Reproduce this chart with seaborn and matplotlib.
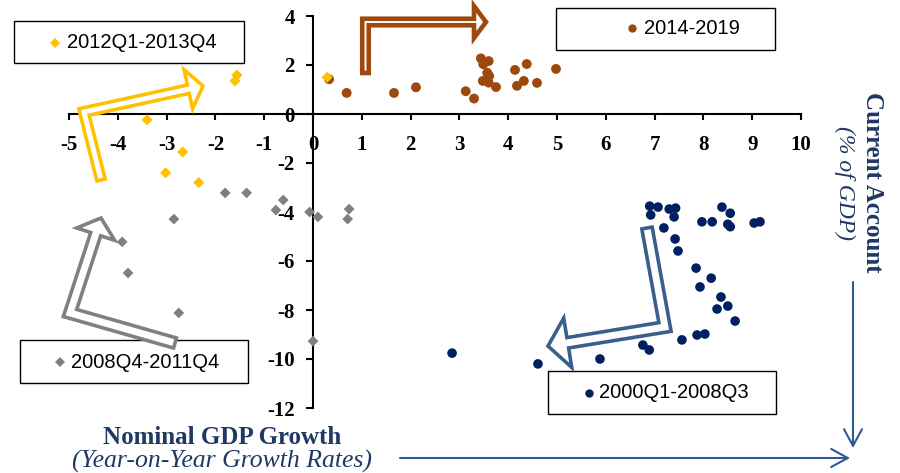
import numpy as np
import pandas as pd
import matplotlib
matplotlib.use("Agg")
import matplotlib.pyplot as plt
import seaborn as sns
from matplotlib.patches import Polygon, Rectangle, FancyArrowPatch, ArrowStyle
from matplotlib.lines import Line2D

# ---------------- data (nominal GDP growth %, current account % of GDP) ----------------
labels = ["2000Q1-2008Q3", "2008Q4-2011Q4", "2012Q1-2013Q4", "2014-2019"]

navy_x = [6.90, 7.07, 6.92, 7.30, 7.43, 7.40, 7.19, 7.42, 7.48, 8.38, 8.55, 7.97,
          8.18, 8.50, 8.55, 9.04, 9.16, 7.85, 8.16, 7.93, 8.36, 8.50, 8.28, 8.65,
          7.56, 7.87, 8.03, 6.76, 6.89, 5.88, 4.61, 2.85]
navy_y = [-3.76, -3.80, -4.12, -3.88, -3.84, -4.20, -4.65, -5.10, -5.59, -3.80, -4.05, -4.40,
          -4.40, -4.50, -4.60, -4.45, -4.40, -6.29, -6.70, -7.06, -7.47, -7.84, -7.96, -8.45,
          -9.22, -9.02, -8.98, -9.43, -9.63, -10.00, -10.20, -9.76]

gray_x = [-1.80, -1.36, -0.61, -0.76, -0.07, 0.10, 0.74, 0.71, -2.85, -3.91, -3.79, -2.75, 0.00]
gray_y = [-3.22, -3.22, -3.51, -3.92, -4.00, -4.20, -3.88, -4.29, -4.29, -5.22, -6.49, -8.12, -9.27]

yellow_x = [-1.56, -1.60, 0.29, -3.40, -2.67, -3.02, -2.34]
yellow_y = [1.59, 1.35, 1.50, -0.24, -1.55, -2.40, -2.80]

brown_x = [0.33, 0.69, 1.66, 2.11, 3.13, 3.30, 3.44, 3.60, 3.49, 3.57, 3.61, 3.48,
           3.60, 3.75, 4.14, 4.38, 4.18, 4.32, 4.59, 4.98]
brown_y = [1.42, 0.86, 0.86, 1.09, 0.93, 0.63, 2.27, 2.16, 2.03, 1.68, 1.55, 1.35,
           1.28, 1.10, 1.80, 2.04, 1.15, 1.35, 1.27, 1.84]

x_ticks = list(range(-5, 11))
y_ticks = list(range(-12, 5, 2))

# ---------------- styling ----------------
sns.set_theme(style="white")
plt.rcParams["font.family"] = ["Liberation Serif", "DejaVu Serif"]

W, H = 900, 473
fig = plt.figure(figsize=(W / 100, H / 100), dpi=100)
ax = fig.add_axes([69 / W, 1 - 408 / H, 732 / W, 392 / H])
ax.set_facecolor("white")

C_NAVY = "#002060"
C_GRAY = "#7F7F7F"
C_YEL = "#FFC000"
C_BRN = "#9E480E"
C_TXT = "#1F3864"
C_ARR = "#2E5A94"

df = pd.concat([
    pd.DataFrame({"x": navy_x, "y": navy_y, "p": labels[0]}),
    pd.DataFrame({"x": gray_x, "y": gray_y, "p": labels[1]}),
    pd.DataFrame({"x": brown_x, "y": brown_y, "p": labels[3]}),
    pd.DataFrame({"x": yellow_x, "y": yellow_y, "p": labels[2]}),
])

style = {
    labels[0]: (C_NAVY, "o", 48),
    labels[1]: (C_GRAY, "D", 30),
    labels[3]: (C_BRN, "o", 50),
    labels[2]: (C_YEL, "D", 32),
}
for lab in [labels[0], labels[1], labels[3], labels[2]]:
    c, m, s = style[lab]
    sns.scatterplot(data=df[df["p"] == lab], x="x", y="y", color=c, marker=m, s=s,
                    edgecolor="none", linewidth=0, ax=ax, legend=False, zorder=3)

ax.set_xlim(-5, 10)
ax.set_ylim(-12, 4)
ax.set_xticks(x_ticks)
ax.set_yticks(y_ticks)
ax.set_xticklabels([str(v) for v in x_ticks])
ax.set_yticklabels([str(v) for v in y_ticks])
ax.set_xlabel("")
ax.set_ylabel("")
ax.grid(False)
for s in ["top", "right"]:
    ax.spines[s].set_visible(False)
ax.spines["left"].set_position(("data", 0))
ax.spines["bottom"].set_position(("data", 0))
for s in ["left", "bottom"]:
    ax.spines[s].set_color("black")
    ax.spines[s].set_linewidth(1.5)
ax.tick_params(axis="x", direction="out", length=4, width=1.5, pad=11,
               labelsize=15, colors="black", bottom=True)
ax.tick_params(axis="y", direction="out", length=5, width=1.5, pad=8,
               labelsize=15, colors="black", left=True)
for t in ax.get_xticklabels() + ax.get_yticklabels():
    t.set_fontweight("bold")


def F(x, y):
    return (x / W, 1 - y / H)


# ---------------- bent hollow arrows ----------------
def bent_arrow(pts, w, hw, hl):
    P = [np.array(p, float) for p in pts]
    d = [(P[i + 1] - P[i]) / np.linalg.norm(P[i + 1] - P[i]) for i in range(len(P) - 1)]
    n = [np.array([-v[1], v[0]]) for v in d]
    tip = P[-1]
    base = tip - d[-1] * hl
    h = w / 2
    left = [P[0] + n[0] * h]
    right = [P[0] - n[0] * h]
    for i in range(1, len(P) - 1):
        m = n[i - 1] + n[i]
        m = m / np.linalg.norm(m)
        k = h / np.dot(m, n[i])
        left.append(P[i] + m * k)
        right.append(P[i] - m * k)
    left += [base + n[-1] * h, base + n[-1] * hw / 2]
    right += [base - n[-1] * h, base - n[-1] * hw / 2]
    poly = left + [tip] + right[::-1]
    return [F(p[0], p[1]) for p in poly]


arrows = [
    # (tail, corner, tip), shaft w, head width, head length, color, edge px
    ([(101, 180), (84, 112), (203, 86)], 8.5, 40, 15, C_YEL, 3.6),
    ([(365.5, 73), (365.5, 22), (486, 22)], 6.5, 32, 12, C_BRN, 4.6),
    ([(175, 343), (70, 313), (101, 218)], 10.5, 40, 17, "#808080", 3.6),
    ([(647, 228), (665, 327), (548, 346)], 10.5, 50, 20, "#3A5F8C", 3.6),
]


# ---------------- legend boxes ----------------
def legend_box(x0, y0, x1, y1, mx, my, marker, color, ms, text, tx):
    (fx0, fy1), (fx1, fy0) = F(x0, y0), F(x1, y1)
    fig.add_artist(Rectangle((fx0, fy0), fx1 - fx0, fy1 - fy0, facecolor="white",
                             edgecolor="black", linewidth=1.0,
                             transform=fig.transFigure, zorder=4))
    mxf, myf = F(mx, my)
    fig.add_artist(Line2D([mxf], [myf], marker=marker, color=color, markersize=ms,
                          markeredgewidth=0, linestyle="none",
                          transform=fig.transFigure, zorder=4.5))
    txf, tyf = F(tx, my)
    fig.text(txf, tyf, text, ha="left", va="center", fontsize=14.5,
             family=["Liberation Sans", "DejaVu Sans"], color="black", zorder=4.5)


legend_box(14, 21, 244, 63, 55, 43, "D", C_YEL, 5.0, labels[2], 67)
legend_box(556, 8, 775, 50, 632, 28, "o", C_BRN, 6.0, labels[3], 644)
legend_box(20, 340, 248, 383, 60, 362, "D", C_GRAY, 5.0, labels[1], 71)
legend_box(548, 371, 776, 414, 589, 393, "o", C_NAVY, 6.0, labels[0], 599)

for pts, w, hw, hl, c, lw in arrows:
    poly = Polygon(bent_arrow(pts, w, hw, hl), closed=True, facecolor="white",
                   edgecolor=c, linewidth=lw * 0.72, joinstyle="miter",
                   transform=fig.transFigure, zorder=5)
    fig.add_artist(poly)

# ---------------- axis titles ----------------
fig.text(*F(222, 437), "Nominal GDP Growth", ha="center", va="center",
         fontsize=18, fontweight="bold", color=C_TXT)
fig.text(*F(222, 461), "(Year-on-Year Growth Rates)", ha="center", va="center",
         fontsize=18.5, style="italic", color=C_TXT)
fig.text(*F(872, 182), "Current Account", ha="center", va="center", rotation=-90,
         fontsize=18, fontweight="bold", color=C_TXT)
fig.text(*F(845, 183), "(% of GDP)", ha="center", va="center", rotation=-90,
         fontsize=17, style="italic", color=C_TXT)

astyle = ArrowStyle("->", head_length=12, head_width=6.5)
fig.add_artist(FancyArrowPatch(F(400, 458), F(850, 458), arrowstyle=astyle,
                               mutation_scale=1, color=C_ARR, linewidth=1.5,
                               transform=fig.transFigure, shrinkA=0, shrinkB=0))
fig.add_artist(FancyArrowPatch(F(853, 282), F(853, 448), arrowstyle=astyle,
                               mutation_scale=1, color=C_ARR, linewidth=1.5,
                               transform=fig.transFigure, shrinkA=0, shrinkB=0))

fig.savefig("out.png", dpi=100, facecolor="white")
